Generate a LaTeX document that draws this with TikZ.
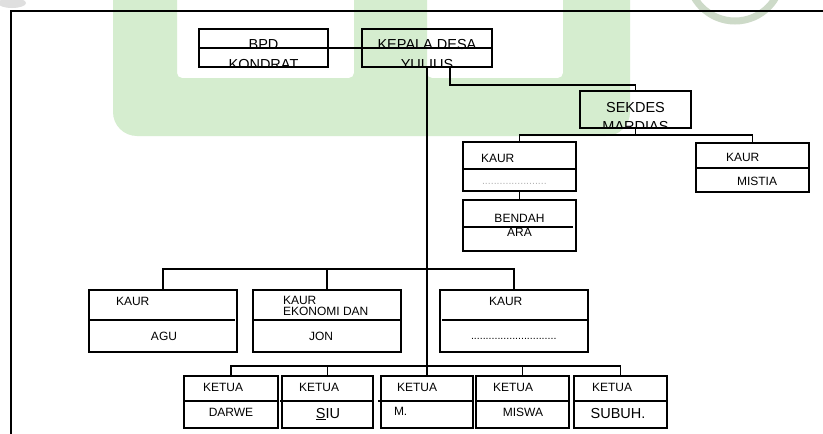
\documentclass[tikz,border=0pt]{standalone}
\usepackage{fontspec}
\setmainfont{Liberation Sans}
\definecolor{wmgreen}{RGB}{213,237,207}
\definecolor{wmring}{RGB}{205,218,200}
\begin{document}
\begin{tikzpicture}[x=1pt,y=-1pt,
  box/.style={draw=black, line width=1.6pt, rectangle, inner sep=0pt, outer sep=0pt},
  conn/.style={draw=black, line width=1.6pt},
  divl/.style={draw=black, line width=1.6pt},
  txt/.style={inner sep=0pt, outer sep=0pt, font=\fontsize{12}{12}\selectfont},
  big/.style={inner sep=0pt, outer sep=0pt, font=\fontsize{14.5}{14.5}\selectfont},
  dots/.style={inner sep=0pt, outer sep=0pt, font=\fontsize{10.6}{10.6}\selectfont},
]
\useasboundingbox (0,0) rectangle (823,434);
\fill[white] (0,0) rectangle (823,434);

% watermark
\fill[wmgreen, even odd rule] [rounded corners=24pt] (113,-40) rectangle (630,136)
  [rounded corners=5pt] (177,-40) rectangle (354,78) (427,-40) rectangle (563,78);
\draw[wmring, line width=7pt] (735,-26) circle (47);
\fill[gray!25] (12,3) ellipse (14 and 5);

% frame
\draw[line width=1.4pt] (11,434) -- (11,11) -- (823,11);

% boxes
\node[box, minimum width=129pt, minimum height=38pt] (bpd) at (263.5,48) {};
\node[box, minimum width=130pt, minimum height=38pt] (kades) at (427,48) {};
\node[box, minimum width=111pt, minimum height=37pt] (sekdes) at (635.5,109.5) {};
\node[box, minimum width=113pt, minimum height=49pt] (kaur1) at (519.5,166.5) {};
\node[box, minimum width=113pt, minimum height=51pt] (bend) at (519.5,225.5) {};
\node[box, minimum width=113pt, minimum height=49pt] (kaur2) at (752.5,167.5) {};
\node[box, minimum width=148pt, minimum height=62pt] (agu) at (163,321) {};
\node[box, minimum width=148pt, minimum height=62pt] (jon) at (327,321) {};
\node[box, minimum width=148pt, minimum height=62pt] (kaur3) at (514,321) {};
\node[box, minimum width=94pt, minimum height=52pt] (darwe) at (231,402) {};
\node[box, minimum width=91pt, minimum height=52pt] (siu) at (327.5,402) {};
\node[box, minimum width=92pt, minimum height=52pt] (mm) at (427,402) {};
\node[box, minimum width=93pt, minimum height=52pt] (miswa) at (522.5,402) {};
\node[box, minimum width=93pt, minimum height=52pt] (subuh) at (620.5,402) {};

% texts
\node[big, anchor=base] (tbpd) at (263.5,49) {BPD};
\node[big, anchor=base] (tkades) at (427,49) {KEPALA DESA};
\begin{scope}
  \clip (bpd.north west) rectangle (bpd.south east);
  \node[big, anchor=base] (tkon) at (263.5,69.5) {KONDRAT};
\end{scope}
\begin{scope}
  \clip (kades.north west) rectangle (kades.south east);
  \node[big, anchor=base] (tyul) at (427,69.5) {YULIUS};
\end{scope}
\node[big, anchor=base] (tsek) at (635.5,112) {SEKDES};
\begin{scope}
  \clip (sekdes.north west) rectangle (sekdes.south east);
  \node[big, anchor=base] (tmar) at (635.5,131) {MARDIAS};
\end{scope}
\node[txt, anchor=base west] (tk1) at (481,162) {KAUR};
\node[dots, anchor=base west, text=gray!60] (tk1d) at (482,184) {......................};
\node[txt, anchor=base] (tben) at (519.5,222) {BENDAH};
\node[txt, anchor=base] (tara) at (519.5,236) {ARA};
\node[txt, anchor=base west] (tk2) at (726,161) {KAUR};
\node[txt, anchor=base] (tmis) at (757,185) {MISTIA};
\node[txt, anchor=base west] (tk3) at (116,305) {KAUR};
\node[txt, anchor=base] (tagu) at (164,340) {AGU};
\node[txt, anchor=base west] (tk4) at (283,304) {KAUR};
\node[txt, anchor=base west] (tek) at (283,315) {EKONOMI DAN};
\node[txt, anchor=base] (tjon) at (321,340) {JON};
\node[txt, anchor=base west] (tk5) at (489,305) {KAUR};
\node[dots, anchor=base west] (tk5d) at (471,339) {.............................};
\node[txt, anchor=base west] (ke1) at (203,391) {KETUA};
\node[txt, anchor=base west] (ke2) at (299,391) {KETUA};
\node[txt, anchor=base west] (ke3) at (397,391) {KETUA};
\node[txt, anchor=base west] (ke4) at (493,391) {KETUA};
\node[txt, anchor=base west] (ke5) at (592,391) {KETUA};
\node[txt, anchor=base] (tdar) at (231,416) {DARWE};
\node[big, anchor=base] (tsiu) at (328,418) {\underline{S}IU};
\node[txt, anchor=base west] (tm) at (394,415) {M.};
\node[txt, anchor=base] (tmsw) at (523,416) {MISWA};
\node[big, anchor=base] (tsub) at (618,418) {SUBUH.};

% dividers
\draw[divl] (kaur1.west |- 0,169) -- (kaur1.east |- 0,169);
\draw[divl] (bend.west |- 0,227) -- (573,227);
\draw[divl] (kaur2.west |- 0,168) -- (kaur2.east |- 0,168);
\draw[divl] (agu.west |- 0,320) -- (235,320);
\draw[divl] (jon.west |- 0,320) -- (jon.east |- 0,320);
\draw[divl] (442,320) -- (kaur3.east |- 0,320);
\draw[divl] (darwe.west |- 0,401) -- (darwe.east |- 0,401);
\draw[divl] (280,401) -- (siu.east |- 0,401);
\draw[divl] (378,401) -- (mm.east |- 0,401);
\draw[divl] (miswa.west |- 0,401) -- (miswa.east |- 0,401);
\draw[divl] (subuh.west |- 0,401) -- (subuh.east |- 0,401);

% connectors
\coordinate (sb) at (0,135);
\coordinate (mb) at (0,269);
\coordinate (kb) at (0,366);
\draw[conn] (bpd.west) -- (kades.east);
\draw[conn] ([xshift=23pt]kades.south) -- ++(0,18) -| (sekdes.north);
\draw[conn] (sekdes.south) -- (sekdes.south |- sb);
\draw[conn] (kaur1.north) |- (kaur2.north |- sb) -- (kaur2.north);
\draw[conn] (kaur1.south) -- (bend.north);
\draw[conn] (kades.south) -- (mm.north);
\draw[conn] (agu.north) |- (kaur3.north |- mb) -- (kaur3.north);
\draw[conn] (jon.north) -- (jon.north |- mb);
\draw[conn] (darwe.north) |- (subuh.north |- kb) -- (subuh.north);
\draw[conn] (siu.north) -- (siu.north |- kb);
\draw[conn] (miswa.north) -- (miswa.north |- kb);
\end{tikzpicture}
\end{document}
